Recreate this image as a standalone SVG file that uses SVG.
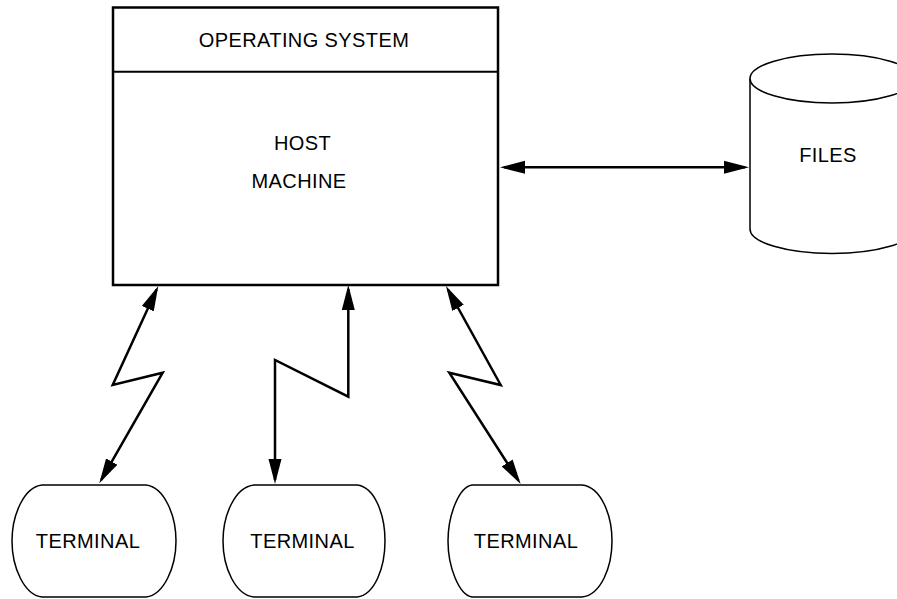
<svg xmlns="http://www.w3.org/2000/svg" width="897" height="599" viewBox="0 0 897 599">
<style>
.txt{font-family:"Liberation Sans",Arial,sans-serif;font-size:20px;letter-spacing:0.4px;fill:#000;text-anchor:middle}
.box{fill:#fff;stroke:#000;stroke-width:2.5}
.thin{fill:#fff;stroke:#000;stroke-width:1.5}
.conn{fill:none;stroke:#000;stroke-width:2.5;stroke-linejoin:miter;marker-start:url(#ah);marker-end:url(#ah)}
</style>
<defs>
<marker id="ah" markerUnits="userSpaceOnUse" markerWidth="26" markerHeight="14" viewBox="0 -7 26 14" refX="21" refY="0" orient="auto-start-reverse">
<path d="M0,-6.5 L25,0 L0,6.5 Z" fill="#000"/>
</marker>
</defs>
<rect width="897" height="599" fill="#fff"/>
<g id="host">
<rect class="box" x="113" y="7.5" width="385" height="277.5"/>
<line x1="113" y1="71.7" x2="498" y2="71.7" stroke="#000" stroke-width="2"/>
<text class="txt" x="304" y="47">OPERATING SYSTEM</text>
<text class="txt" x="302.5" y="150">HOST</text>
<text class="txt" x="299" y="188">MACHINE</text>
</g>
<g id="files">
<path class="thin" d="M750,78.5 V229 A82,24.5 0 0 0 914,229 V78.5"/>
<ellipse class="thin" cx="832" cy="78.5" rx="82" ry="24.5"/>
<text class="txt" x="828" y="162">FILES</text>
</g>
<g id="terminal1">
<path class="thin" d="M42,485 H146 C164,487 176,515 176,541 C176,567 164,595 146,597 H42 C24,595 12,567 12,541 C12,515 24,487 42,485 Z"/>
<text class="txt" x="88" y="548">TERMINAL</text>
</g>
<g id="terminal2">
<path class="thin" d="M254,485 H357 C375,487 385,515 385,541 C385,567 375,595 357,597 H254 C235,595 223,567 223,541 C223,515 235,487 254,485 Z"/>
<text class="txt" x="302.5" y="548">TERMINAL</text>
</g>
<g id="terminal3">
<path class="thin" d="M472,485 H582 C601,487 612,515 612,541 C612,567 601,595 582,597 H472 C459,595 448,567 448,541 C448,515 459,487 472,485 Z"/>
<text class="txt" x="526" y="548">TERMINAL</text>
</g>
<g id="connectors">
<line class="conn" x1="504" y1="167.3" x2="745" y2="167.3"/>
<polyline class="conn" points="156.6,289.6 112.7,385 162.7,372.7 101.3,479.8"/>
<polyline class="conn" points="348.3,289 348.3,396.7 275,360 275,480"/>
<polyline class="conn" points="447.9,289.5 500.7,385 449.3,372.7 518.5,480.6"/>
</g>
</svg>
